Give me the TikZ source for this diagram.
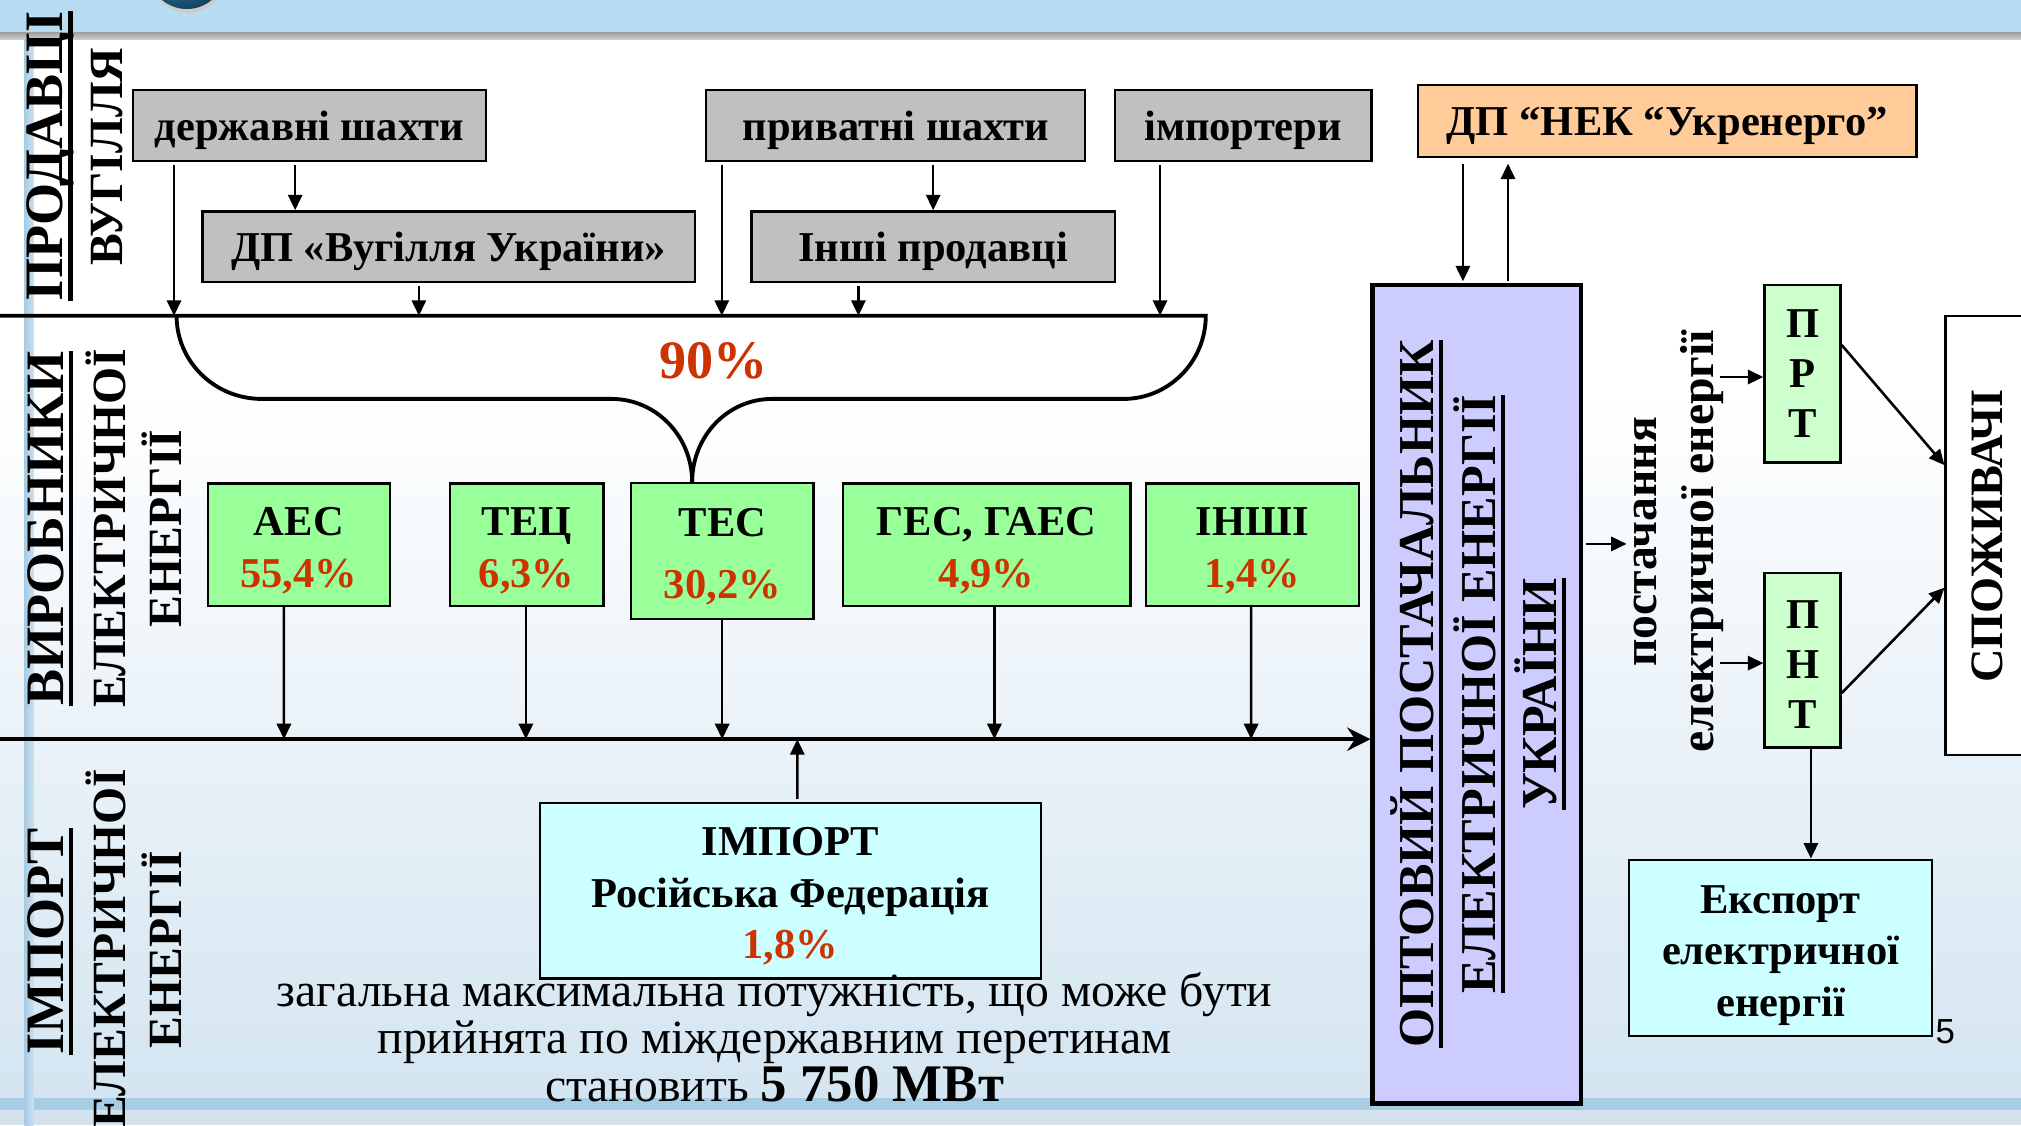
\documentclass[tikz,border=0pt]{standalone}
\usepackage{fontspec}
\setmainfont{Liberation Serif}
\newfontfamily\sansf{Liberation Sans}
\usetikzlibrary{arrows.meta}
\definecolor{pct}{RGB}{204,51,0}
\definecolor{boxgray}{RGB}{192,192,192}
\definecolor{boxgreen}{RGB}{153,255,153}
\definecolor{boxlgreen}{RGB}{204,255,204}
\definecolor{boxorange}{RGB}{255,204,153}
\definecolor{boxviolet}{RGB}{204,204,255}
\definecolor{boxcyan}{RGB}{204,255,255}
\definecolor{bandblue}{RGB}{184,220,242}
\definecolor{stripblue}{RGB}{168,203,227}
\definecolor{bgbottom}{RGB}{212,229,241}
\definecolor{bandlow}{RGB}{166,205,227}
\definecolor{paleblue}{RGB}{210,227,238}
\definecolor{ballblue}{RGB}{50,165,230}
\newcommand{\myul}[1]{\leavevmode\setbox0=\hbox{#1}\rlap{\rule[-0.19em]{\wd0}{0.08em}}\box0}
\newcommand{\tstrut}[1]{\rule{0pt}{#1}}
\newcommand{\bxfont}{\bfseries\fontsize{33}{40}\selectfont}
\newcommand{\lblAfont}{\bfseries\fontsize{42}{42}\selectfont}
\newcommand{\lblBfont}{\bfseries\fontsize{37}{37}\selectfont}
\newcommand{\optfont}{\bfseries\fontsize{39}{39}\selectfont}
\tikzset{
  bxbase/.style={draw=black, line width=1.8pt, inner sep=0pt, align=center, font=\bxfont},
  bxgray/.style={bxbase, fill=boxgray, text height=23pt, text depth=0pt},
  bxorange/.style={bxbase, fill=boxorange, text height=23pt, text depth=0pt},
  bxgreen/.style={bxbase, fill=boxgreen},
  bxlgreen/.style={bxbase, fill=boxlgreen, font=\bfseries\fontsize{33}{39}\selectfont},
  bxcyan/.style={bxbase, fill=boxcyan},
  lbla/.style={font=\lblAfont, rotate=90, anchor=base, inner sep=0pt},
  lblb/.style={font=\lblBfont, rotate=90, anchor=base, inner sep=0pt},
  opttxt/.style={font=\optfont, rotate=90, anchor=base, inner sep=0pt},
  conn/.style={line width=2pt, -{Triangle[length=12pt,width=11pt]}},
  bus/.style={line width=3pt},
  plain/.style={font=\fontsize{37}{38}\selectfont, anchor=base, inner sep=0pt}
}
\begin{document}
\begin{tikzpicture}[x=1pt,y=-1pt]
\useasboundingbox (0,0) rectangle (1568,873);
% ---------- background ----------
\fill[bandblue] (0,0) rectangle (1568,25);
\begin{scope}
  \clip (0,0) rectangle (1568,25);
  \fill[gray!40] (146,-20) circle (30);
  \shade[ball color=ballblue] (145,-23) circle (30);
\end{scope}
\shade[top color=gray!75, bottom color=gray!35] (0,25) rectangle (1568,31);
\fill[white] (0,31) rectangle (1568,300);
\shade[top color=white, bottom color=bgbottom] (0,300) rectangle (1568,852);
\fill[bandlow] (0,852) rectangle (1568,861);
\fill[paleblue] (0,861) rectangle (1568,873);
\shade[left color=stripblue, right color=stripblue!60] (19,31) rectangle (26,873);
% ---------- left labels ----------
\node[lbla] (prod) at (48.5,121) {\myul{ПРОДАВЦІ}};
\node[lblb] (vug) at (95,121.5) {ВУГІЛЛЯ};
\node[lbla] (vyr) at (49,410) {\myul{ВИРОБНИКИ}};
\node[lblb] (vyr2) at (97,410) {ЕЛЕКТРИЧНОЇ};
\node[lblb] (vyr3) at (140.5,410) {ЕНЕРГІЇ};
\node[lbla] (impl) at (49,730.5) {\myul{ІМПОРТ}};
\node[lblb] (impl2) at (97,735.5) {ЕЛЕКТРИЧНОЇ};
\node[lblb] (impl3) at (140.5,737) {ЕНЕРГІЇ};
% ---------- coal sellers ----------
\node[bxgray, minimum width=274, minimum height=55] (ds) at (240,97.5) {державні шахти};
\node[bxgray, minimum width=382, minimum height=55] (dpv) at (348,191.5) {ДП «Вугілля України»};
\node[bxgray, minimum width=294, minimum height=55] (ps) at (695,97.5) {приватні шахти};
\node[bxgray, minimum width=282, minimum height=55] (ip) at (724,191.5) {Інші продавці};
\node[bxgray, minimum width=199, minimum height=55] (imp) at (964.5,97.5) {імпортери};
\node[bxorange, minimum width=387, minimum height=56] (nek) at (1293.5,94) {ДП “НЕК “Укренерго”};
% ---------- producers ----------
\node[bxgreen, minimum width=141, minimum height=95] (aes) at (231.9,422.5) {\tstrut{31pt}АЕС\\{\color{pct}55,4\%}};
\node[bxgreen, minimum width=119.3, minimum height=95] (tec) at (408.6,422.5) {\tstrut{31pt}ТЕЦ\\{\color{pct}6,3\%}};
\node[bxgreen, minimum width=141.4, minimum height=105.5] (tes) at (560.5,427.7) {\tstrut{30pt}ТЕС\\[8pt]{\color{pct}30,2\%}};
\node[bxgreen, minimum width=223.4, minimum height=95] (ges) at (765.5,422.5) {\tstrut{31pt}ГЕС, ГАЕС\\{\color{pct}4,9\%}};
\node[bxgreen, minimum width=165.2, minimum height=95] (inshi) at (971.6,422.5) {\tstrut{31pt}ІНШІ\\{\color{pct}1,4\%}};
\node[font=\bfseries\fontsize{42}{42}\selectfont, text=pct, anchor=base, inner sep=0pt] (p90) at (553.5,293.5) {90\%};
% ---------- import ----------
\node[bxcyan, minimum width=388.5, minimum height=136.3] (impel) at (613.2,690.9) {\tstrut{31pt}ІМПОРТ\\Російська Федерація\\{\color{pct}1,8\%}};
\node[plain] (bt1) at (601,781) {загальна максимальна потужність, що може бути};
\node[plain] (bt2) at (601,817) {прийнята по міждержавним перетинам};
\node[plain] (bt3) at (601,854.7) {становить {\bfseries\fontsize{41}{41}\selectfont 5 750 МВт}};
% ---------- wholesale supplier ----------
\node[draw=black, line width=3.5pt, fill=boxviolet, minimum width=161.6, minimum height=635, inner sep=0pt] (opt) at (1145.8,538.5) {};
\node[opttxt] (opt1) at (1112,538.5) {\myul{ОПТОВИЙ ПОСТАЧАЛЬНИК}};
\node[opttxt] (opt2) at (1160,538.5) {\myul{ЕЛЕКТРИЧНОЇ ЕНЕРГІЇ}};
\node[opttxt] (opt3) at (1207.5,538.5) {\myul{УКРАЇНИ}};
% ---------- supply ----------
\node[lblb] (post) at (1285,420.5) {постачання};
\node[lblb] (elen) at (1329.5,420) {електричної енергії};
\node[bxlgreen, minimum width=59, minimum height=137.5] (prt) at (1398.5,290) {П\\Р\\Т};
\node[bxlgreen, minimum width=59, minimum height=135.4] (pnt) at (1398.5,512.3) {\tstrut{28pt}П\\Н\\Т};
\node[draw=black, line width=1.8pt, fill=white, minimum width=71, minimum height=340.7, inner sep=0pt] (spoz) at (1545,415.35) {};
\node[font=\bfseries\fontsize{36}{36}\selectfont, rotate=90, anchor=base, inner sep=0pt] (spoztxt) at (1553.5,416) {СПОЖИВАЧІ};
\node[bxcyan, minimum width=235, minimum height=137] (exp) at (1381.5,735.5) {\tstrut{33pt}Експорт\\електричної\\енергії};
\node[font=\sansf\fontsize{27}{27}\selectfont, anchor=base west, inner sep=0pt] (pagenum) at (1501.5,809.5) {5};
% ---------- bus coordinates ----------
\coordinate (b1L) at (0,245);
\coordinate (b1R) at (935.5,245);
\coordinate (b1s) at (137,245);
\coordinate (b1a) at (135,245);
\coordinate (b1b) at (325,245);
\coordinate (b1c) at (560,245);
\coordinate (b1d) at (666,245);
\coordinate (b1e) at (900,245);
\coordinate (b2L) at (0,573.5);
\coordinate (b2a) at (220.3,573.5);
\coordinate (b2b) at (408,573.5);
\coordinate (b2c) at (560.3,573.5);
\coordinate (b2d) at (771.5,573.5);
\coordinate (b2e) at (970.7,573.5);
\coordinate (b2f) at (618.6,573.5);
\coordinate (cpost) at (1262,422);
\coordinate (cprt) at (1334.5,292.5);
\coordinate (cpnt) at (1334.5,514.5);
% ---------- bus lines and bracket ----------
\draw[bus] (b1L) -- (b1R) .. controls (935.5,280.6) and (906.9,309.5) .. (871.6,309.5)
  -- (599,309.5) .. controls (564.5,309.5) and ([xshift=-23.5pt]tes.north |- 0,338.4) .. ([xshift=-23.5pt]tes.north);
\draw[bus] (b1s) .. controls (137,280.6) and (166.6,309.5) .. (203,309.5)
  -- (474.5,309.5) .. controls (509,309.5) and ([xshift=-23.5pt]tes.north |- 0,338.4) .. ([xshift=-23.5pt]tes.north);
\draw[line width=3.5pt, -{Stealth[length=18pt,width=18pt,inset=6pt]}] (b2L) -- (b2L -| opt.west);
% ---------- connectors ----------
\draw[conn, shorten <=2pt] ([xshift=-105pt]ds.south) -- (b1a);
\draw[conn, shorten <=2pt] ([xshift=-11pt]ds.south) -- ([xshift=-119pt]dpv.north);
\draw[conn, shorten <=2pt] ([xshift=-23pt]dpv.south) -- (b1b);
\draw[conn, shorten <=2pt] ([xshift=-135pt]ps.south) -- (b1c);
\draw[conn, shorten <=2pt] ([xshift=29pt]ps.south) -- (ip.north);
\draw[conn, shorten <=2pt] ([xshift=-58pt]ip.south) -- (b1d);
\draw[conn, shorten <=2pt] ([xshift=-64.5pt]imp.south) -- (b1e);
\draw[conn, shorten <=4pt, shorten >=1pt] ([xshift=-158.5pt]nek.south) -- ([xshift=-10.8pt]opt.north);
\draw[conn, shorten <=1pt, shorten >=4pt] ([xshift=24.2pt]opt.north) -- ([xshift=-123.5pt]nek.south);
\draw[conn] ([xshift=-11.6pt]aes.south) -- (b2a);
\draw[conn] ([xshift=-0.6pt]tec.south) -- (b2b);
\draw[conn] ([xshift=-0.2pt]tes.south) -- (b2c);
\draw[conn] ([xshift=6pt]ges.south) -- (b2d);
\draw[conn] ([xshift=-0.9pt]inshi.south) -- (b2e);
\draw[conn, shorten <=2pt] ([xshift=5.4pt]impel.north) -- (b2f);
\draw[conn, shorten <=2.5pt] (opt.east |- cpost) -- (cpost);
\draw[conn] (cprt) -- (cprt -| prt.west);
\draw[conn] (cpnt) -- (cpnt -| pnt.west);
\draw[conn] ([yshift=22.3pt]prt.east) -- ([yshift=54.5pt]spoz.west);
\draw[conn] ([yshift=-25.4pt]pnt.east) -- ([yshift=-40.6pt]spoz.west);
\draw[conn] ([xshift=6.5pt]pnt.south) -- ([xshift=23.5pt]exp.north);
\end{tikzpicture}
\end{document}
